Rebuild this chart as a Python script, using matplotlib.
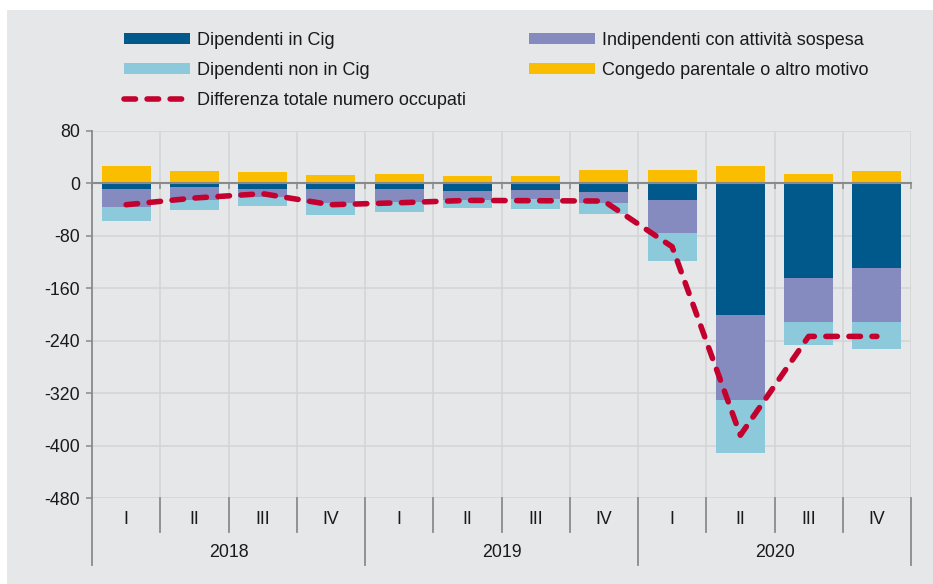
import matplotlib
matplotlib.use("Agg")
import matplotlib.pyplot as plt
from matplotlib.patches import Rectangle
from matplotlib.lines import Line2D
import matplotlib.transforms as mtransforms
import numpy as np

# ---------------- data ----------------
quarters = ["I", "II", "III", "IV", "I", "II", "III", "IV", "I", "II", "III", "IV"]
years = ["2018", "2019", "2020"]
dip_cig = [-9.6, -6.1, -9.6, -9.6, -9.6, -12.7, -11.2, -14.2, -26.4, -201.5, -145.2, -129.4]
indip_sospesa = [-27.4, -19.8, -12.2, -20.9, -19.3, -13.2, -13.7, -16.3, -49.2, -129.5, -66.5, -82.8]
dip_non_cig = [-21.4, -15.7, -12.7, -17.7, -15.3, -11.7, -14.7, -16.2, -42.7, -80.0, -34.5, -40.6]
congedo = [25.4, 18.3, 16.8, 12.7, 13.7, 11.2, 10.2, 19.8, 19.3, 25.9, 13.2, 18.8]
diff_totale = [-33.0, -22.8, -16.2, -33.0, -30.0, -26.4, -26.9, -27.4, -97.0, -384.0, -233.5, -233.5]
y_ticks = [80, 0, -80, -160, -240, -320, -400, -480]

# ---------------- style ----------------
plt.rcParams["font.family"] = ["Liberation Sans", "DejaVu Sans"]
plt.rcParams["axes.unicode_minus"] = False
plt.rcParams["lines.scale_dashes"] = False

C_DB = "#00598A"
C_P = "#868BBF"
C_LB = "#8CC9DA"
C_Y = "#FBBD00"
C_RED = "#C4002F"
BG = "#E6E7E9"
AX = "#8A8A8A"
GRID = "#D3D4D6"

W, H = 933, 584
fig = plt.figure(figsize=(W / 100, H / 100), dpi=100, facecolor="white")
fig.patches.append(Rectangle((7 / W, 0), 1, (H - 10) / H, transform=fig.transFigure,
                             facecolor=BG, edgecolor="none", zorder=-10))

left, right = 92 / W, 911 / W
top_px, bot_px = 130.5, 498.3
ax = fig.add_axes([left, (H - bot_px) / H, right - left, (bot_px - top_px) / H])
ax.set_facecolor(BG)

x = np.arange(len(quarters))
bw = 0.72
dip_cig_a = np.array(dip_cig)
indip_a = np.array(indip_sospesa)
non_a = np.array(dip_non_cig)

b1 = ax.bar(x, dip_cig_a, bw, color=C_DB, zorder=3, label="Dipendenti in Cig")
b2 = ax.bar(x, indip_a, bw, bottom=dip_cig_a, color=C_P, zorder=3,
            label="Indipendenti con attività sospesa")
b3 = ax.bar(x, non_a, bw, bottom=dip_cig_a + indip_a, color=C_LB, zorder=3,
            label="Dipendenti non in Cig")
b4 = ax.bar(x, congedo, bw, color=C_Y, zorder=3, label="Congedo parentale o altro motivo")
ln, = ax.plot(x, diff_totale, color=C_RED, lw=4.0, dashes=(8.3, 8.3),
              dash_capstyle="round", solid_capstyle="round", zorder=5,
              label="Differenza totale numero occupati")

ax.set_xlim(-0.5, len(quarters) - 0.5)
ax.set_ylim(-480, 80)
ax.set_yticks(y_ticks)
ax.set_yticklabels([str(v) for v in y_ticks], fontsize=12.8, color="#1a1a1a")
ax.tick_params(axis="y", length=4.5, width=1.1, color=AX, pad=4)

bounds = np.arange(-0.5, len(quarters), 1.0)
ax.set_xticks(bounds)
ax.set_xticklabels([])
ax.tick_params(axis="x", length=4, width=1.1, color=AX, direction="out")

ax.grid(True, color=GRID, lw=1.1, zorder=0)
ax.set_axisbelow(True)

for s in ["top", "right"]:
    ax.spines[s].set_visible(False)
ax.spines["left"].set_color(AX)
ax.spines["left"].set_linewidth(1.3)
ax.spines["bottom"].set_position(("data", 0))
ax.spines["bottom"].set_color(AX)
ax.spines["bottom"].set_linewidth(1.5)
ax.spines["bottom"].set_zorder(4)

# categorical two-level axis below plot
trans = mtransforms.blended_transform_factory(ax.transData, ax.transAxes)
h_ax = bot_px - top_px
def fy(px):
    return -(px - bot_px) / h_ax

for i, q in enumerate(quarters):
    ax.text(x[i], fy(519), q, transform=trans, ha="center", va="center",
            fontsize=12.8, color="#1a1a1a")
for j, yr in enumerate(years):
    ax.text(x[4 * j] + 1.5, fy(552.5), yr, transform=trans, ha="center", va="center",
            fontsize=12.8, color="#1a1a1a")
for b in bounds:
    is_year = (int(round(b + 0.5)) % 4 == 0)
    y_end = fy(564.5) if is_year else fy(531.5)
    ax.add_line(Line2D([b, b], [0, y_end], transform=trans, color=AX,
                       lw=1.3, clip_on=False))

# legend
handles = [b1, b3, ln, b2, b4]
labels = [h.get_label() for h in handles]
leg = fig.legend(handles, labels, ncol=2, loc="upper left",
                 bbox_to_anchor=(124 / W, 1 - 32 / H), frameon=False,
                 fontsize=13, handlelength=3.65, handleheight=0.55,
                 handletextpad=0.39, columnspacing=3.49, labelspacing=0.71,
                 borderpad=0, borderaxespad=0)
for t in leg.get_texts():
    t.set_color("#1a1a1a")

fig.savefig("out.png", dpi=100, facecolor=fig.get_facecolor())
